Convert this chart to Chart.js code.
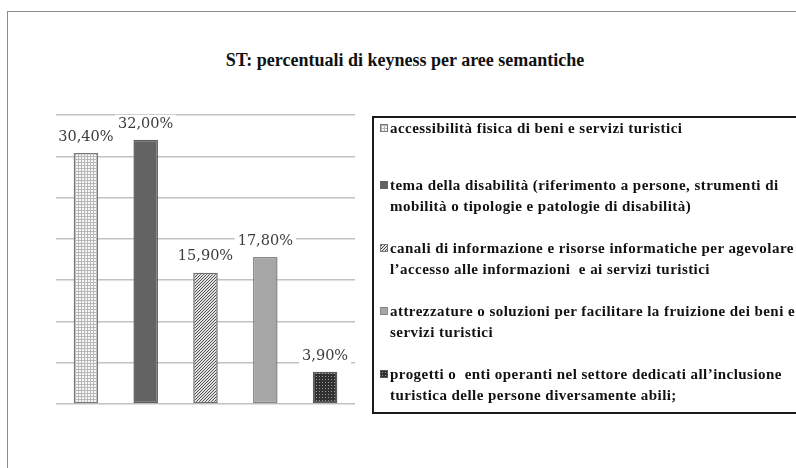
<!DOCTYPE html>
<html>
<head>
  <meta charset="utf-8">
  <title>ST: percentuali di keyness</title>
  <script src="https://cdn.jsdelivr.net/npm/chart.js@4.4.0/dist/chart.umd.min.js"></script>
  <style>
    body { margin:0; width:796px; height:468px; overflow:hidden; background:#fff; position:relative; }
    #frame { position:absolute; left:7px; top:11px; width:900px; height:600px; border:1px solid #8a8a8a; }
    #title { position:absolute; left:0; width:810px; top:50px; text-align:center; font:bold 18px "Liberation Serif"; color:#111; }
    #chart { position:absolute; left:0; top:0; }
    #legend { position:absolute; left:372px; top:116px; width:500px; height:294px; border:2px solid #1a1a1a;
              font:bold 15px "Liberation Serif"; letter-spacing:0.45px; color:#111; }
    .item { position:absolute; left:16px; line-height:21px; white-space:pre; }
    .item i { position:absolute; left:-10px; top:6px; width:8px; height:8px; box-sizing:border-box; }
  </style>
</head>
<body>
  <div id="frame"></div>
  <div id="title">ST: percentuali di keyness per aree semantiche</div>
  <canvas id="chart" width="796" height="468"></canvas>
  <div id="legend"></div>
  <script>
  // data
  const legendLines = [
    ['accessibilità fisica di beni e servizi turistici'],
    ['tema della disabilità (riferimento a persone, strumenti di', 'mobilità o tipologie e patologie di disabilità)'],
    ['canali di informazione e risorse informatiche per agevolare', 'l’accesso alle informazioni  e ai servizi turistici'],
    ['attrezzature o soluzioni per facilitare la fruizione dei beni e', 'servizi turistici'],
    ['progetti o  enti operanti nel settore dedicati all’inclusione', 'turistica delle persone diversamente abili;']
  ];
  const categories = legendLines.map(l => l.join(' '));
  const values = [30.4, 32.0, 15.9, 17.8, 3.9];
  const yMax = 35;
  const yStep = 5;

  function fmt(v){
    return v.toFixed(2).replace('.', ',') + '%';
  }

  // small tiles for the hatched fills
  function makeTile(w, h, bg, fg, test){
    const c = document.createElement('canvas');
    c.width = w; c.height = h;
    const g = c.getContext('2d');
    g.fillStyle = bg; g.fillRect(0, 0, w, h);
    g.fillStyle = fg;
    for (let x = 0; x < w; x++)
      for (let y = 0; y < h; y++)
        if (test(x, y)) g.fillRect(x, y, 1, 1);
    return c;
  }
  const gridTile = makeTile(3, 3, '#f6f6f6', '#b8b8b8', (x, y) => x === 0 || y === 0);
  const stripeTile = makeTile(3, 3, '#e2e2e2', '#505050', (x, y) => (x + y) % 3 === 0);
  const dotTile = makeTile(3, 3, '#303030', '#9c9c9c', (x, y) => x === 1 && y === 1);

  const canvas = document.getElementById('chart');
  const ctx = canvas.getContext('2d');
  const fills = [
    ctx.createPattern(gridTile, 'repeat'),
    '#636363',
    ctx.createPattern(stripeTile, 'repeat'),
    '#a6a6a6',
    ctx.createPattern(dotTile, 'repeat')
  ];
  const borders = ['#7a7a7a', '#5e5e5e', '#6e6e6e', '#858585', '#5a5a5a'];

  // legend (html, lines broken as in the original)
  const markerCss = [
    'background:url(' + gridTile.toDataURL() + ');border:1px solid #777',
    'background:#636363',
    'background:url(' + stripeTile.toDataURL() + ');border:1px solid #777',
    'background:#a6a6a6;border:1px solid #888',
    'background:url(' + dotTile.toDataURL() + ');border:1px solid #555'
  ];
  const itemTops = [0, 57, 120, 183, 246];
  const legend = document.getElementById('legend');
  legendLines.forEach(function(lines, i){
    const d = document.createElement('div');
    d.className = 'item';
    d.style.top = itemTops[i] + 'px';
    const m = document.createElement('i');
    m.style.cssText = markerCss[i];
    d.appendChild(m);
    d.appendChild(document.createTextNode(lines.join('\n')));
    legend.appendChild(d);
  });

  const valueLabels = {
    id: 'valueLabels',
    afterDatasetsDraw(chart){
      const c = chart.ctx;
      const meta = chart.getDatasetMeta(0);
      c.save();
      c.font = '14.5px "DejaVu Serif"';
      c.textAlign = 'center';
      c.textBaseline = 'middle';
      meta.data.forEach(function(bar, i){
        const txt = fmt(values[i]);
        const w = c.measureText(txt).width + 6;
        const y = bar.y - 16;
        c.fillStyle = '#fff';
        c.fillRect(bar.x - w / 2, y - 9, w, 18);
        c.fillStyle = '#3c3c3c';
        c.fillText(txt, bar.x, y);
      });
      c.restore();
    }
  };

  new Chart(canvas, {
    type: 'bar',
    data: {
      labels: categories,
      datasets: [{
        data: values,
        backgroundColor: fills,
        borderColor: borders,
        borderWidth: 1.5,
        borderSkipped: false,
        barPercentage: 0.41,
        categoryPercentage: 1.0,
      }],
    },
    options: {
      responsive: false,
      animation: false,
      layout: { padding: { left: 56, right: 441, top: 115, bottom: 64 } },
      plugins: {
        legend: { display: false },
        tooltip: { enabled: false },
      },
      scales: {
        x: { display: false },
        y: {
          min: 0,
          max: yMax,
          ticks: { display: false, stepSize: yStep },
          grid: { color: '#c2c2c2', lineWidth: 1.5, drawTicks: false },
          border: { display: false },
        },
      },
    },
    plugins: [valueLabels],
  });
  </script>
</body>
</html>
